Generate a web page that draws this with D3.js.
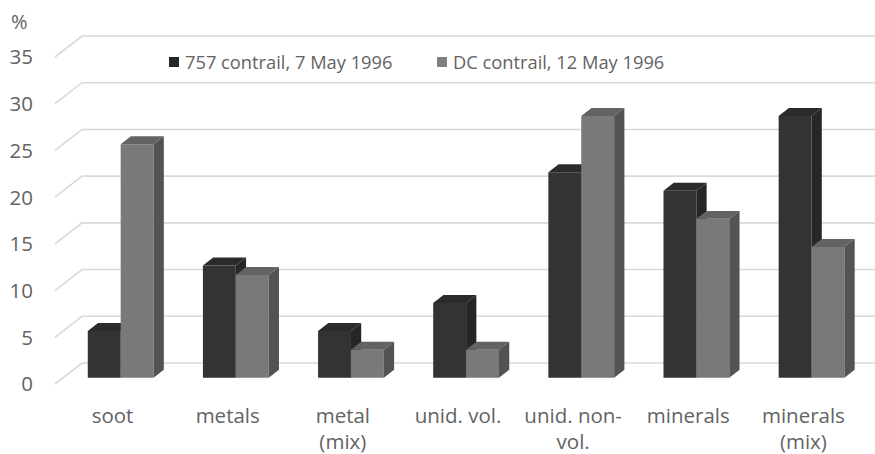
<!DOCTYPE html>
<html>
<head>
<meta charset="utf-8">
<script src="https://cdn.jsdelivr.net/npm/d3@7"></script>
<style>
  html, body { margin: 0; padding: 0; background: #fff; }
  svg { display: block; }
  text { font-family: "Open Sans", sans-serif; fill: #636363; }
</style>
</head>
<body>
<svg id="chart" width="875" height="454"></svg>
<script>
// ---- data ----
const categories = ["soot", "metals", "metal (mix)", "unid. vol.", "unid. non-vol.", "minerals", "minerals (mix)"];
const categoryLines = [["soot"], ["metals"], ["metal", "(mix)"], ["unid. vol."], ["unid. non-", "vol."], ["minerals"], ["minerals", "(mix)"]];
const seriesNames = ["757 contrail, 7 May 1996", "DC contrail, 12 May 1996"];
const series757 = [5, 12, 5, 8, 22, 20, 28];
const seriesDC = [25, 11, 3, 3, 28, 17, 14];
const yTicks = [0, 5, 10, 15, 20, 25, 30, 35];
const yUnit = "%";

// ---- styles ----
const faceColors = [
  { front: "#333333", top: "#2b2b2b", side: "#262626" },
  { front: "#79797c", top: "#636365", side: "#535355" }
];

const svg = d3.select("#chart");
const W = 875;

// oblique projection: full floor depth vector
const DEPTH_X = 27, DEPTH_Y = -21;
const barD0 = 0.3, barD1 = 0.68; // depth fraction occupied by bars

const x = d3.scaleBand().domain(categories).range([55, 861]).paddingInner(0).paddingOuter(0);
const x1 = d3.scaleBand().domain(seriesNames).range([0, x.bandwidth()]).paddingInner(0).paddingOuter(0.75);
const y = d3.scaleLinear().domain([0, 35]).range([384, 57]);

// gridlines (side wall diagonal + back wall horizontal)
const grid = svg.append("g");
yTicks.forEach(v => {
  const yf = y(v);
  grid.append("path")
    .attr("d", `M${x.range()[0]},${yf} L${x.range()[0] + DEPTH_X},${yf + DEPTH_Y} L${W},${yf + DEPTH_Y}`)
    .attr("fill", "none")
    .attr("stroke", "#d9d9d9")
    .attr("stroke-width", 1.6);
});

// y tick labels
svg.append("g").selectAll("text").data(yTicks).join("text")
  .attr("x", 33)
  .attr("y", d => y(d))
  .attr("dy", "0.36em")
  .attr("text-anchor", "end")
  .attr("font-size", 20.5)
  .text(d => d);

svg.append("text").attr("x", 11).attr("y", 29).attr("font-size", 20).text(yUnit);

// bars
const allSeries = [series757, seriesDC];
const bars = svg.append("g");
const fx = barD0 * DEPTH_X, fy = barD0 * DEPTH_Y;
const ddx = (barD1 - barD0) * DEPTH_X, ddy = (barD1 - barD0) * DEPTH_Y;

categories.forEach((c, i) => {
  allSeries.forEach((s, k) => {
    const v = s[i];
    const x0 = x(c) + x1(seriesNames[k]) + fx;
    const x2 = x0 + x1.bandwidth();
    const yb = y(0) + fy;
    const yt = y(v) + fy;
    const col = faceColors[k];
    const g = bars.append("g");
    // front
    g.append("path").attr("d", `M${x0},${yb} L${x0},${yt} L${x2},${yt} L${x2},${yb} Z`).attr("fill", col.front);
    // top
    g.append("path").attr("d", `M${x0},${yt} L${x0 + ddx},${yt + ddy} L${x2 + ddx},${yt + ddy} L${x2},${yt} Z`).attr("fill", col.top);
    // side
    g.append("path").attr("d", `M${x2},${yt} L${x2 + ddx},${yt + ddy} L${x2 + ddx},${yb + ddy} L${x2},${yb} Z`).attr("fill", col.side);
  });
});

// category labels
const catG = svg.append("g");
categories.forEach((c, i) => {
  const t = catG.append("text")
    .attr("x", x(c) + x.bandwidth() / 2)
    .attr("y", 423)
    .attr("text-anchor", "middle")
    .attr("font-size", 20.5);
  categoryLines[i].forEach((line, j) => {
    t.append("tspan").attr("x", x(c) + x.bandwidth() / 2).attr("dy", j === 0 ? 0 : 26).text(line);
  });
});

// legend
const legendX = [169, 437];
const legendColors = ["#262626", "#7f7f7f"];
seriesNames.forEach((n, k) => {
  svg.append("rect").attr("x", legendX[k]).attr("y", 57).attr("width", 10).attr("height", 10).attr("fill", legendColors[k]);
  svg.append("text").attr("x", legendX[k] + 16).attr("y", 68.5).attr("font-size", 18.3).text(n);
});
</script>
</body>
</html>
